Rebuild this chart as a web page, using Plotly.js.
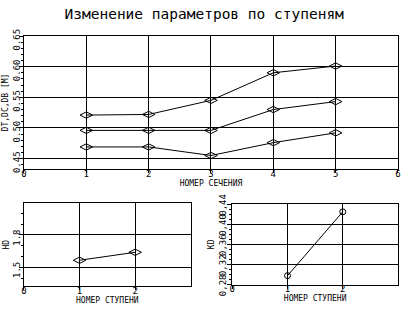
<!DOCTYPE html>
<html>
<head>
<meta charset="utf-8">
<script src="https://cdn.plot.ly/plotly-3.0.1.min.js"></script>
<style>html,body{margin:0;padding:0;background:#fff;}#chart{width:415px;height:315px;}</style>
</head>
<body>
<div id="chart"></div>
<script>
// Main chart: diameters by section number
const sections = [1, 2, 3, 4, 5];
const dT = [0.521, 0.522, 0.545, 0.590, 0.601];
const dC = [0.496, 0.496, 0.496, 0.530, 0.543];
const dB = [0.469, 0.469, 0.455, 0.476, 0.492];
// Lower charts: by stage number
const stages = [1, 2];
const hD = [1.565, 1.639];
const kD = [0.298, 0.425];
const mainYTicks = [0.45, 0.50, 0.55, 0.60, 0.65];
const krYTickVals = [0.28, 0.32, 0.36, 0.40, 0.44];
const krYTickText = ['0,28', '0,32', '0,36', '0,40', '0,44'];

const FONT = 'DejaVu Sans Mono';
const lineStyle = {color: '#000', width: 1};

const traces = [
  {x: sections, y: dT, xaxis: 'x', yaxis: 'y', mode: 'lines+markers', line: lineStyle,
   marker: {symbol: 'diamond-wide-open', size: 9, color: '#000', line: {width: 1}}},
  {x: sections, y: dC, xaxis: 'x', yaxis: 'y', mode: 'lines+markers', line: lineStyle,
   marker: {symbol: 'diamond-wide-open', size: 9, color: '#000', line: {width: 1}}},
  {x: sections, y: dB, xaxis: 'x', yaxis: 'y', mode: 'lines+markers', line: lineStyle,
   marker: {symbol: 'diamond-wide-open', size: 9, color: '#000', line: {width: 1}}},
  {x: stages, y: hD, xaxis: 'x2', yaxis: 'y2', mode: 'lines+markers', line: lineStyle,
   marker: {symbol: 'diamond-wide-open', size: 9, color: '#000', line: {width: 1}}},
  {x: stages, y: kD, xaxis: 'x3', yaxis: 'y3', mode: 'lines+markers', line: lineStyle,
   marker: {symbol: 'circle-open', size: 6, color: '#000', line: {width: 1}}}
];

const tickFont = {family: FONT, size: 9, color: '#000'};
const titleFont = {family: FONT, size: 8, color: '#000'};

function xAxis(domain, range, tickvals, title, anchor) {
  return {
    domain: domain, range: range, anchor: anchor,
    tickvals: tickvals, ticks: 'outside', ticklen: 3, tickcolor: '#000',
    ticklabelstandoff: -7,
    showgrid: true, gridcolor: '#000', gridwidth: 1,
    showline: true, linecolor: '#000', linewidth: 1, mirror: true,
    zeroline: false, tickfont: tickFont,
    title: {text: title, font: titleFont, standoff: 0}
  };
}
function yAxis(domain, range, extra, title, anchor, labelOff, titleOff) {
  return Object.assign({
    domain: domain, range: range, anchor: anchor,
    ticks: 'outside', ticklen: 4, tickcolor: '#000', tickangle: -90,
    ticklabelstandoff: labelOff,
    showgrid: true, gridcolor: '#000', gridwidth: 1,
    showline: true, linecolor: '#000', linewidth: 1, mirror: true,
    zeroline: false, tickfont: tickFont,
    title: {text: title, font: titleFont, standoff: titleOff}
  }, extra);
}

const layout = {
  width: 415, height: 315,
  margin: {l: 0, r: 0, t: 0, b: 0},
  paper_bgcolor: '#fff', plot_bgcolor: '#fff',
  showlegend: false,
  font: {family: FONT, color: '#000'},
  title: {text: 'Изменение параметров по ступеням', font: {family: FONT, size: 14.5, color: '#000'},
          x: 0.492, xanchor: 'center', y: 0.955, yanchor: 'middle', yref: 'container'},
  xaxis: xAxis([0.0578, 0.9590], [0, 6], [0, 1, 2, 3, 4, 5, 6], 'НОМЕР СЕЧЕНИЯ', 'y'),
  yaxis: yAxis([0.4635, 0.8857], [0.433, 0.65],
    {tickvals: mainYTicks, tickformat: '.2f', ticklabelshift: 5,
     minor: {dtick: 0.01, ticks: 'outside', ticklen: 2, tickcolor: '#000', showgrid: false}},
    'DT,DC,DB [M]', 'x', -5, 2),
  xaxis2: xAxis([0.0578, 0.4595], [0, 3], [0, 1, 2], 'НОМЕР СТУПЕНИ', 'y2'),
  yaxis2: yAxis([0.0921, 0.3546], [1.326, 2.094],
    {tickvals: [1.5, 1.8], tickformat: '.1f', ticklabelshift: 4,
     minor: {dtick: 0.1, tick0: 1.5, ticks: 'outside', ticklen: 2, tickcolor: '#000', showgrid: false}},
    'HD', 'x2', -5, 1),
  xaxis3: xAxis([0.5598, 0.9590], [0, 3], [0, 1, 2], 'НОМЕР СТУПЕНИ', 'y3'),
  yaxis3: yAxis([0.0962, 0.3524], [0.28, 0.4405],
    {tickvals: krYTickVals, ticktext: krYTickText, ticklabelshift: 2,
     minor: {dtick: 0.01, tick0: 0.28, ticks: 'outside', ticklen: 2, tickcolor: '#000', showgrid: false}},
    'KD', 'x3', -2, 1)
};

Plotly.newPlot('chart', traces, layout, {staticPlot: true, displayModeBar: false});
</script>
</body>
</html>
